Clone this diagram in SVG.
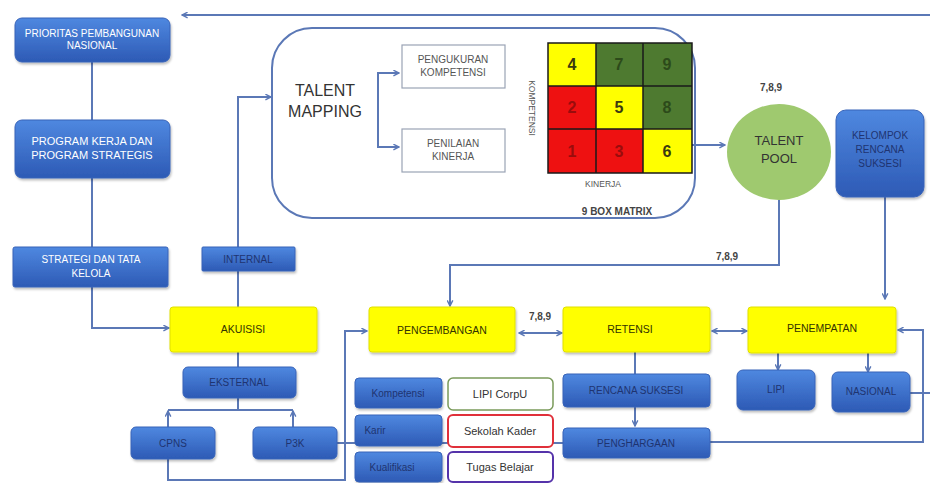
<svg xmlns="http://www.w3.org/2000/svg" width="930" height="483" viewBox="0 0 930 483">
<defs>
<linearGradient id="blue" x1="0" y1="0" x2="0" y2="1">
<stop offset="0" stop-color="#4f88e0"/>
<stop offset="1" stop-color="#2d5ab5"/>
</linearGradient>
<marker id="arr" viewBox="0 0 10 10" refX="9" refY="5" markerWidth="7" markerHeight="7" orient="auto-start-reverse" markerUnits="userSpaceOnUse">
<path d="M1,1 L9,5 L1,9" fill="none" stroke="#5b78b6" stroke-width="2"/>
</marker>
<filter id="sh" x="-10%" y="-10%" width="120%" height="130%">
<feDropShadow dx="1" dy="2" stdDeviation="1.2" flood-color="#000" flood-opacity="0.25"/>
</filter>
</defs>
<style>
.bx{fill:url(#blue);stroke:#3863b8;stroke-width:1;filter:url(#sh)}
.yb{fill:#ffff00;stroke:#e0e000;stroke-width:1;filter:url(#sh)}
.ln{fill:none;stroke:#5b78b6;stroke-width:2}
.t{font-family:"Liberation Sans",Arial,sans-serif;text-anchor:middle}
.w{fill:#ffffff;font-size:10px}
.d{fill:#1f3470;font-size:10px}
.k{fill:#333300;font-size:10.5px}
.g{fill:#555555;font-size:10px}
.num{font-family:"Liberation Sans",Arial,sans-serif;text-anchor:middle;font-size:16px;font-weight:bold}
.lbl{font-family:"Liberation Sans",Arial,sans-serif;font-size:10px;font-weight:bold;fill:#444}
</style>
<rect width="930" height="483" fill="#ffffff"/>

<g id="talent-mapping">
<rect x="272" y="28" width="423" height="190" rx="40" fill="#ffffff" stroke="#5b78b6" stroke-width="2"/>
<text class="t" x="325" y="96" fill="#333" font-size="16">TALENT</text>
<text class="t" x="325" y="117" fill="#333" font-size="16">MAPPING</text>
<text class="lbl" x="617" y="215" text-anchor="middle">9 BOX MATRIX</text>
</g>

<g id="connectors">
<path class="ln" d="M930,15 H182" marker-end="url(#arr)" stroke="#6e86b0"/>
<path class="ln" d="M92,62 V120"/>
<path class="ln" d="M92,178 V247"/>
<path class="ln" d="M92,287 V328 H169" marker-end="url(#arr)"/>
<path class="ln" d="M238,307 V97 H271" marker-end="url(#arr)"/>
<path class="ln" d="M399,73 H378 V147 H399" marker-start="url(#arr)" marker-end="url(#arr)"/>
<path class="ln" d="M692,145 H725" marker-end="url(#arr)"/>
<path class="ln" d="M779,200 V265 H450 V306" marker-end="url(#arr)"/>
<path class="ln" d="M519,333 H562" marker-start="url(#arr)" marker-end="url(#arr)"/>
<path class="ln" d="M712,331 H747" marker-start="url(#arr)" marker-end="url(#arr)"/>
<path class="ln" d="M885,197 V299" marker-end="url(#arr)"/>
<path class="ln" d="M778,353 V370" marker-end="url(#arr)"/>
<path class="ln" d="M868,353 V372" marker-end="url(#arr)"/>
<path class="ln" d="M910,393 H930"/>
<path class="ln" d="M710,442 H923 V330 H898" marker-end="url(#arr)"/>
<path class="ln" d="M635,352 V374"/>
<path class="ln" d="M635,407 V426" marker-end="url(#arr)"/>
<path class="ln" d="M238,352 V367"/>
<path class="ln" d="M238,398 V410 M168,410 H293"/>
<path class="ln" d="M168,427 V411" marker-end="url(#arr)"/>
<path class="ln" d="M293,427 V411" marker-end="url(#arr)"/>
<path class="ln" d="M168,459 V480 H345 V331 H367" marker-end="url(#arr)"/>
<path class="ln" d="M337,443 H563"/>
</g>

<g id="prioritas">
<rect class="bx" x="15" y="18" width="155" height="44" rx="7"/>
<text class="t w" x="92" y="37" font-size="8.5">PRIORITAS PEMBANGUNAN</text>
<text class="t w" x="92" y="49" font-size="8.5">NASIONAL</text>
</g>
<g id="program">
<rect class="bx" x="15" y="120" width="155" height="58" rx="7"/>
<text class="t w" x="92" y="145" style="font-size:11px">PROGRAM KERJA DAN</text>
<text class="t w" x="92" y="159" style="font-size:11px">PROGRAM STRATEGIS</text>
</g>
<g id="strategi">
<rect class="bx" x="13" y="247" width="155" height="40" rx="2"/>
<text class="t w" x="91" y="263">STRATEGI DAN TATA</text>
<text class="t w" x="91" y="277">KELOLA</text>
</g>
<g id="internal">
<rect class="bx" x="202" y="247" width="93" height="24" rx="1"/>
<text class="t d" x="248" y="263">INTERNAL</text>
</g>

<g id="pengukuran">
<rect x="402" y="45" width="103" height="43" fill="#fff" stroke="#9aa3b5" stroke-width="1.2"/>
<text class="t g" x="453" y="63">PENGUKURAN</text>
<text class="t g" x="453" y="76">KOMPETENSI</text>
</g>
<g id="penilaian">
<rect x="402" y="129" width="103" height="43" fill="#fff" stroke="#9aa3b5" stroke-width="1.2"/>
<text class="t g" x="453" y="147">PENILAIAN</text>
<text class="t g" x="453" y="160">KINERJA</text>
</g>
<g id="matrix">
<text class="t" transform="translate(529,108) rotate(90)" fill="#555" font-size="8.5">KOMPETENSI</text>
<text class="t" x="603" y="187" fill="#555" font-size="8.5">KINERJA</text>
<rect x="548" y="43" width="48" height="43" fill="#ffff00"/>
<rect x="596" y="43" width="47" height="43" fill="#4e7a30"/>
<rect x="643" y="43" width="49" height="43" fill="#4e7a30"/>
<rect x="548" y="86" width="48" height="43" fill="#ee1111"/>
<rect x="596" y="86" width="47" height="43" fill="#ffff00"/>
<rect x="643" y="86" width="49" height="43" fill="#4e7a30"/>
<rect x="548" y="129" width="48" height="44" fill="#ee1111"/>
<rect x="596" y="129" width="47" height="44" fill="#ee1111"/>
<rect x="643" y="129" width="49" height="44" fill="#ffff00"/>
<path d="M548,43 H692 V173 H548 Z M596,43 V173 M643,43 V173 M548,86 H692 M548,129 H692" fill="none" stroke="#1a1a1a" stroke-width="1.5"/>
<text class="num" x="572" y="70" fill="#3a3a10">4</text>
<text class="num" x="619" y="70" fill="#2c4a1a">7</text>
<text class="num" x="667" y="70" fill="#2c4a1a">9</text>
<text class="num" x="572" y="113" fill="#9a0c0c">2</text>
<text class="num" x="619" y="113" fill="#3a3a10">5</text>
<text class="num" x="667" y="113" fill="#2c4a1a">8</text>
<text class="num" x="572" y="157" fill="#9a0c0c">1</text>
<text class="num" x="619" y="157" fill="#9a0c0c">3</text>
<text class="num" x="667" y="157" fill="#3a3a10">6</text>
</g>

<g id="talent-pool">
<ellipse cx="779" cy="152" rx="52" ry="48" fill="#9fc96f"/>
<text class="t" x="779" y="145" fill="#333" font-size="13">TALENT</text>
<text class="t" x="779" y="163" fill="#333" font-size="13">POOL</text>
<text class="lbl" x="771" y="91" text-anchor="middle">7,8,9</text>
<text class="lbl" x="727" y="260" text-anchor="middle">7,8,9</text>
<text class="lbl" x="540" y="320" text-anchor="middle">7,8,9</text>
</g>
<g id="kelompok">
<rect class="bx" x="836" y="110" width="88" height="87" rx="10"/>
<text class="t d" x="880" y="139" font-size="8.5">KELOMPOK</text>
<text class="t d" x="880" y="153" font-size="8.5">RENCANA</text>
<text class="t d" x="880" y="167" font-size="8.5">SUKSESI</text>
</g>

<g id="akuisisi">
<rect class="yb" x="170" y="307" width="147" height="45" rx="3"/>
<text class="t k" x="243" y="333">AKUISISI</text>
</g>
<g id="pengembangan">
<rect class="yb" x="369" y="307" width="146" height="45" rx="3"/>
<text class="t k" x="442" y="334">PENGEMBANGAN</text>
</g>
<g id="retensi">
<rect class="yb" x="563" y="307" width="147" height="45" rx="3"/>
<text class="t k" x="630" y="333">RETENSI</text>
</g>
<g id="penempatan">
<rect class="yb" x="748" y="307" width="148" height="46" rx="3"/>
<text class="t k" x="822" y="332">PENEMPATAN</text>
</g>

<g id="eksternal">
<rect class="bx" x="183" y="367" width="113" height="31" rx="5"/>
<text class="t d" x="239" y="386">EKSTERNAL</text>
</g>
<g id="cpns">
<rect class="bx" x="131" y="427" width="84" height="32" rx="5"/>
<text class="t d" x="173" y="447">CPNS</text>
</g>
<g id="p3k">
<rect class="bx" x="253" y="427" width="84" height="32" rx="5"/>
<text class="t d" x="295" y="447">P3K</text>
</g>

<g id="kompetensi">
<rect class="bx" x="355" y="378" width="87" height="30" rx="4"/>
<text class="t d" x="398" y="397">Kompetensi</text>
</g>
<g id="karir">
<rect class="bx" x="355" y="415" width="87" height="31" rx="4"/>
<text class="t d" x="375" y="434">Karir</text>
</g>
<g id="kualifikasi">
<rect class="bx" x="355" y="452" width="87" height="30" rx="4"/>
<text class="t d" x="392" y="471">Kualifikasi</text>
</g>
<g id="lipi-corpu">
<rect x="448" y="378" width="105" height="32" rx="5" fill="#fff" stroke="#7a9a5a" stroke-width="1.5"/>
<text class="t" x="500" y="398" fill="#333" font-size="11">LIPI CorpU</text>
</g>
<g id="sekolah-kader">
<rect x="448" y="415" width="105" height="32" rx="5" fill="#fff" stroke="#e0303a" stroke-width="2"/>
<text class="t" x="500" y="435" fill="#333" font-size="11">Sekolah Kader</text>
</g>
<g id="tugas-belajar">
<rect x="448" y="452" width="105" height="30" rx="5" fill="#fff" stroke="#5533aa" stroke-width="2"/>
<text class="t" x="500" y="471" fill="#333" font-size="11">Tugas Belajar</text>
</g>

<g id="rencana-suksesi">
<rect class="bx" x="563" y="374" width="147" height="33" rx="4"/>
<text class="t d" x="636" y="394">RENCANA SUKSESI</text>
</g>
<g id="penghargaan">
<rect class="bx" x="563" y="428" width="147" height="30" rx="4"/>
<text class="t d" x="636" y="447">PENGHARGAAN</text>
</g>
<g id="lipi">
<rect class="bx" x="737" y="370" width="78" height="40" rx="6"/>
<text class="t d" x="776" y="393">LIPI</text>
</g>
<g id="nasional">
<rect class="bx" x="832" y="372" width="78" height="40" rx="6"/>
<text class="t d" x="871" y="395">NASIONAL</text>
</g>
</svg>
